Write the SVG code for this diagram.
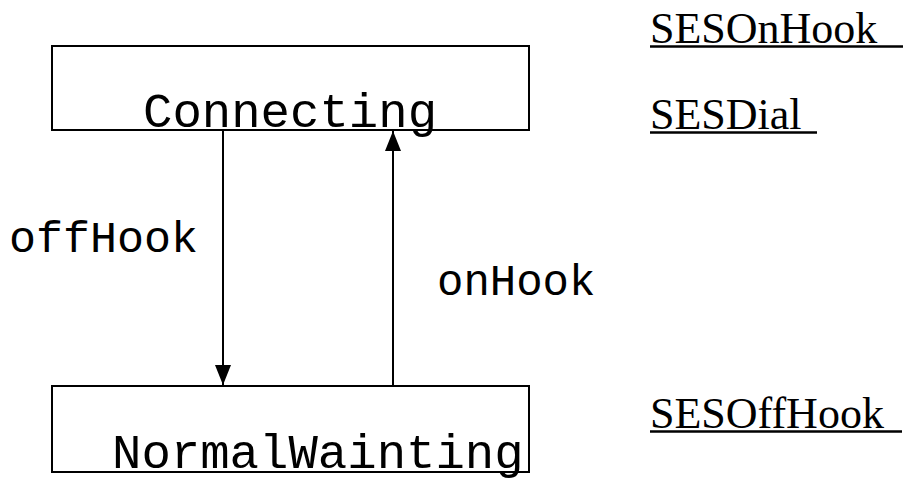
<svg xmlns="http://www.w3.org/2000/svg" width="907" height="478" viewBox="0 0 907 478">
<style>
.box{fill:none;stroke:#000;stroke-width:2}
.mono{font-family:"Liberation Mono","Courier New",monospace;fill:#000}
.serif{font-family:"Liberation Serif","Times New Roman",serif;font-size:44px;fill:#000}
.ul{stroke:#000;stroke-width:2.5}
.conn{stroke:#000;stroke-width:2;fill:none}
</style>
<defs>
<marker id="ah" viewBox="0 0 20 16" refX="20" refY="8" markerWidth="20" markerHeight="16" markerUnits="userSpaceOnUse" orient="auto">
<path d="M0,0 L20,8 L0,16 Z" fill="#000"/>
</marker>
</defs>
<rect width="907" height="478" fill="#fff"/>
<g id="connecting">
<rect class="box" x="52" y="46" width="477" height="84"/>
<text class="mono" x="143" y="127" font-size="49">Connecting</text>
</g>
<g id="normalwaiting">
<rect class="box" x="52" y="386" width="477" height="86"/>
<text class="mono" x="112" y="468" font-size="49">NormalWainting</text>
</g>
<g id="connectors">
<line class="conn" x1="223" y1="130" x2="223" y2="385" marker-end="url(#ah)"/>
<line class="conn" x1="393" y1="386" x2="393" y2="131" marker-end="url(#ah)"/>
<text class="mono" x="9" y="252" font-size="45">offHook</text>
<text class="mono" x="437" y="295" font-size="44">onHook</text>
</g>
<g id="labels">
<text class="serif" x="650" y="43">SESOnHook</text>
<line class="ul" x1="650" y1="46.5" x2="903" y2="46.5"/>
<text class="serif" x="650" y="129">SESDial</text>
<line class="ul" x1="650" y1="132.5" x2="817" y2="132.5"/>
<text class="serif" x="650" y="428">SESOffHook</text>
<line class="ul" x1="650" y1="431.5" x2="902" y2="431.5"/>
</g>
</svg>
